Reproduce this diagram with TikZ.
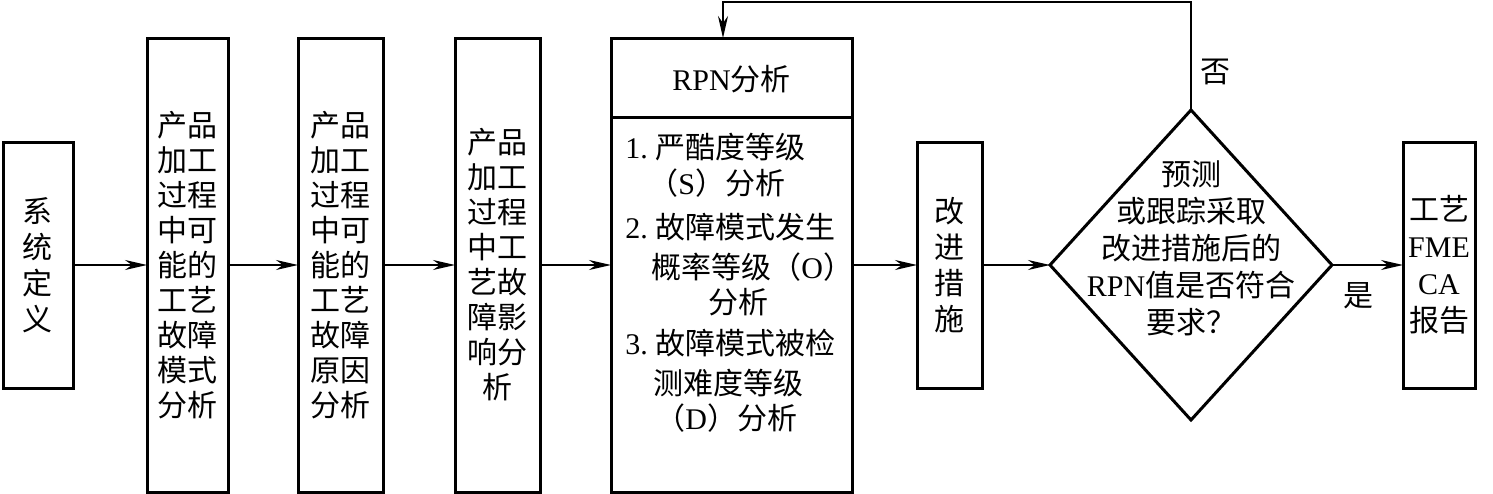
\documentclass[tikz,border=0pt]{standalone}
\usepackage{fontspec}
\setmainfont{Liberation Serif}
\newfontfamily\cjk{Noto Sans CJK SC}
\newfontfamily\lat{Liberation Serif}
\usetikzlibrary{arrows.meta,shapes.geometric}
\tikzset{
  boxn/.style={draw, line width=1.5pt, inner sep=0pt, outer sep=0pt, align=center,
    font=\cjk\fontsize{15pt}{17.5pt}\selectfont},
  txt/.style={inner sep=0pt, align=center, font=\cjk\fontsize{15pt}{18.5pt}\selectfont},
  conn/.style={line width=0.8pt, -{Stealth[length=11pt,width=5pt,inset=3.5pt]}},
}
\begin{document}
\begin{tikzpicture}[x=0.5pt,y=-0.5pt]
\useasboundingbox (0,0) rectangle (1493,493);
% boxes
\node[boxn, minimum width=35pt, minimum height=123pt, font=\cjk\fontsize{15pt}{18pt}\selectfont] (sys) at (38,265) {系\\统\\定\\义};
\node[boxn, minimum width=40.5pt, minimum height=227pt] (b2) at (187.5,265) {产品\\加工\\过程\\中可\\能的\\工艺\\故障\\模式\\分析};
\node[boxn, minimum width=42.5pt, minimum height=227pt] (b3) at (340.5,265) {产品\\加工\\过程\\中可\\能的\\工艺\\故障\\原因\\分析};
\node[boxn, minimum width=42.5pt, minimum height=227pt] (b4) at (497.5,265) {产品\\加工\\过程\\中工\\艺故\\障影\\响分\\析};
\node[boxn, minimum width=120.5pt, minimum height=227pt] (rpn) at (731.5,265) {};
\draw[line width=1.5pt] (rpn.west |- 0,117) -- (rpn.east |- 0,117);
\node[txt] (rpnh) at (731.5,79) {{\lat RPN}分析};
\node[txt, anchor=west] (r1) at (625,147) {{\lat 1.\ }严酷度等级};
\node[txt, anchor=west] (r2) at (648,183) {（{\lat S}）分析};
\node[txt, anchor=west] (r3) at (625,227) {{\lat 2.\ }故障模式发生};
\node[txt, anchor=west] (r4) at (651,267) {概率等级（{\lat O}）};
\node[txt, anchor=west] (r5) at (708,302) {分析};
\node[txt, anchor=west] (r6) at (625,343) {{\lat 3.\ }故障模式被检};
\node[txt, anchor=west] (r7) at (653,383) {测难度等级};
\node[txt, anchor=west] (r8) at (655,418) {（{\lat D}）分析};
\node[boxn, minimum width=32.5pt, minimum height=123pt, font=\cjk\fontsize{15pt}{18pt}\selectfont] (gj) at (949.5,265) {改\\进\\措\\施};
\node[draw, line width=1.5pt, shape=diamond, minimum width=141pt, minimum height=155pt, inner sep=0pt, outer sep=0pt] (dia) at (1191,265) {};
\node[txt] (dq) at (1191,248) {预测\\或跟踪采取\\改进措施后的\\{\lat RPN}值是否符合\\要求？};
\node[boxn, minimum width=36pt, minimum height=123pt, font=\cjk\fontsize{15pt}{18.5pt}\selectfont] (rep) at (1439,265) {工艺\\{\lat FME}\\{\lat CA}\\报告};
\node[txt] (no) at (1215,72) {否};
\node[txt] (yes) at (1358,296) {是};
% connectors
\foreach \a/\b in {sys/b2,b2/b3,b3/b4,b4/rpn,rpn/gj,gj/dia,dia/rep}
  \draw[conn] (\a.east) -- (\b.west);
\coordinate (top) at (723,2);
\draw[conn] (dia.north) |- (top) -- (top |- rpn.north);
\end{tikzpicture}
\end{document}
